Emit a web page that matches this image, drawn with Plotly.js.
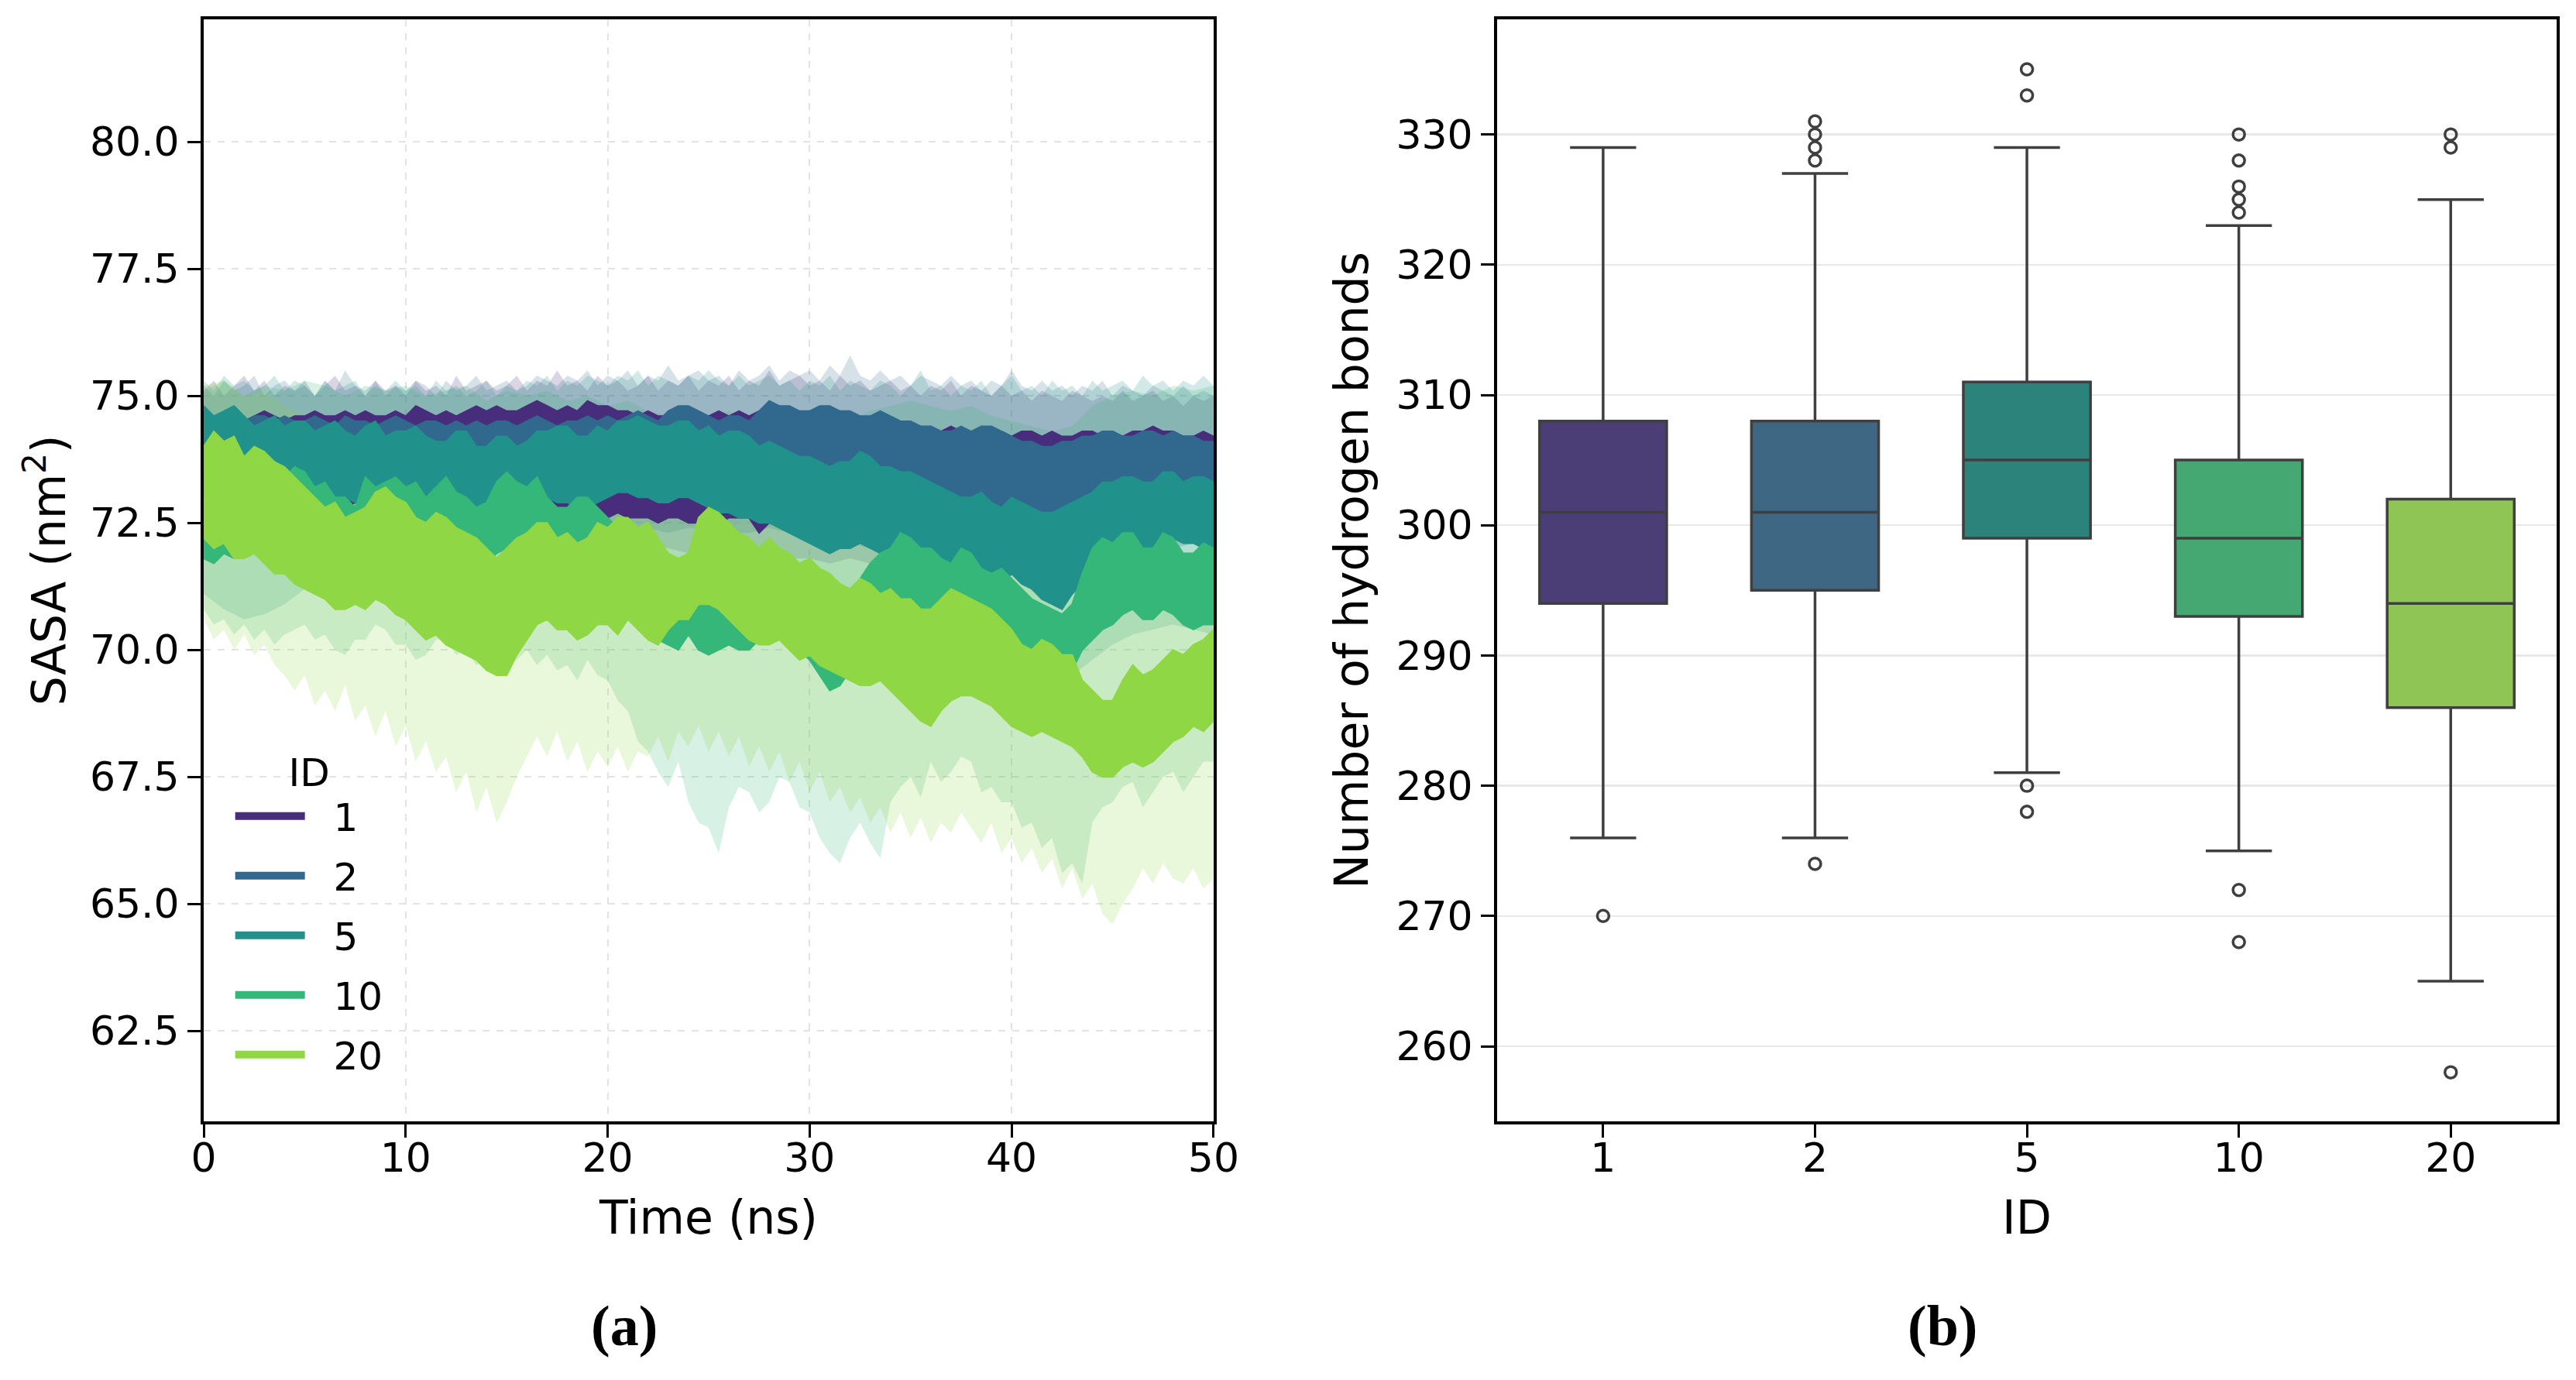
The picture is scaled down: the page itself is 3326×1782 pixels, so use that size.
<!DOCTYPE html>
<html>
<head>
<meta charset="utf-8">
<script src="https://cdn.plot.ly/plotly-3.0.1.min.js"></script>
<style>
  html, body { margin: 0; padding: 0; background: #fff; }
  #chart { width: 3326px; height: 1782px; }
</style>
</head>
<body>
<div id="chart"></div>
<script>
// IDs (hue levels) and viridis colours
const ids = ['1', '2', '5', '10', '20'];
const lineColors = ['#472d7b', '#31688e', '#21918c', '#35b779', '#8fd744'];
const bandColors = ['rgba(71,45,123,0.2)', 'rgba(49,104,142,0.2)', 'rgba(33,145,140,0.2)',
                    'rgba(53,183,121,0.2)', 'rgba(143,215,68,0.2)'];
const boxFills = ['#4b3e77', '#3e6784', '#2c837c', '#45a873', '#8ec555'];

// (a) SASA, thick line envelopes, one value every 0.5 ns (0..50)
const lineHi_1 = [74.6,74.5,74.6,74.6,74.5,74.6,74.7,74.6,74.5,74.6, 74.6,74.7,74.6,74.6,74.7,74.6,74.7,74.6,74.6,74.7,
  74.6,74.8,74.7,74.6,74.7,74.6,74.7,74.8,74.7,74.8, 74.7,74.7,74.8,74.9,74.8,74.7,74.8,74.7,74.9,74.8,
  74.8,74.7,74.7,74.6,74.7,74.6,74.6,74.7,74.6,74.6, 74.6,74.7,74.6,74.7,74.6,74.7,74.6,74.6,74.5,74.6,
  74.5,74.6,74.5,74.5,74.6,74.5,74.5,74.4,74.5,74.4, 74.4,74.3,74.4,74.3,74.4,74.3,74.3,74.2,74.3,74.3,
  74.2,74.3,74.3,74.2,74.3,74.2,74.2,74.3,74.3,74.2, 74.3,74.2,74.3,74.3,74.4,74.3,74.3,74.2,74.2,74.3, 74.2];
const lineLo_1 = [73.0,73.0,72.9,73.0,73.0,72.9,72.9,72.9,72.8,72.9, 72.9,72.8,72.9,72.8,72.8,72.9,72.8,72.8,72.7,72.8,
  72.8,72.7,72.8,72.7,72.7,72.8,72.7,72.7,72.7,72.6, 72.7,72.6,72.7,72.6,72.7,72.7,72.6,72.6,72.7,72.6,
  72.6,72.7,72.6,72.6,72.6,72.5,72.6,72.6,72.5,72.5, 72.6,72.5,72.6,72.6,72.6,72.3,72.5,72.6,72.4,72.4,
  72.5,72.4,72.4,72.4,72.4,72.3,72.4,72.4,72.3,72.4, 72.4,72.3,72.3,72.3,72.4,72.3,72.4,72.3,72.4,72.3,
  72.3,72.3,72.2,72.3,72.3,72.4,72.3,72.2,72.2,72.3, 72.5,72.6,72.7,72.7,72.8,72.7,72.8,72.8,72.7,72.8, 72.8];
const lineHi_2 = [74.7,74.6,74.6,74.7,74.5,74.6,74.6,74.5,74.6,74.5, 74.5,74.6,74.5,74.4,74.6,74.5,74.5,74.4,74.5,74.6,
  74.5,74.4,74.5,74.5,74.4,74.5,74.4,74.5,74.4,74.5, 74.5,74.4,74.5,74.6,74.5,74.4,74.5,74.5,74.6,74.5,
  74.6,74.5,74.6,74.7,74.6,74.5,74.7,74.8,74.8,74.7, 74.6,74.5,74.6,74.6,74.5,74.7,74.9,74.8,74.8,74.7,
  74.7,74.8,74.8,74.7,74.7,74.6,74.6,74.7,74.6,74.5, 74.5,74.4,74.4,74.3,74.3,74.4,74.3,74.4,74.4,74.3,
  74.2,74.1,74.1,74.0,74.0,74.1,74.1,74.2,74.2,74.3, 74.3,74.2,74.2,74.3,74.3,74.2,74.3,74.2,74.2,74.1, 74.1];
const lineLo_2 = [73.6,73.5,73.6,73.6,73.5,73.6,73.5,73.5,73.6,73.5, 73.5,73.6,73.5,73.4,73.5,73.5,73.4,73.5,73.5,73.5,
  73.5,73.4,73.5,73.4,73.4,73.5,73.4,73.5,73.4,73.5, 73.5,73.4,73.5,73.5,73.5,73.4,73.5,73.5,73.6,73.5,
  73.6,73.5,73.6,73.6,73.5,73.5,73.6,73.7,73.6,73.6, 73.6,73.5,73.5,73.6,73.5,73.6,73.6,73.5,73.5,73.4,
  73.4,73.3,73.3,73.4,73.4,73.3,73.3,73.2,73.1,73.0, 73.0,73.0,73.0,72.9,72.9,72.8,72.8,72.9,72.9,72.8,
  72.8,72.7,72.6,72.5,72.5,72.6,72.6,72.7,72.9,73.0, 73.1,73.1,73.2,73.2,73.3,73.3,73.4,73.3,73.3,73.2, 73.2];
const lineHi_5 = [74.8,74.6,74.7,74.8,74.6,74.4,74.5,74.6,74.4,74.5, 74.5,74.3,74.4,74.5,74.3,74.2,74.4,74.5,74.2,74.3,
  74.3,74.4,74.2,74.1,74.1,74.3,74.3,74.0,74.0,74.2, 74.2,74.0,74.1,74.3,74.3,74.4,74.4,74.2,74.2,74.4,
  74.3,74.5,74.5,74.6,74.5,74.4,74.4,74.5,74.5,74.3, 74.4,74.2,74.3,74.3,74.2,74.0,74.1,74.0,73.9,73.8,
  73.8,73.7,73.6,73.7,73.7,73.9,73.8,73.6,73.6,73.5, 73.5,73.4,73.3,73.2,73.1,73.0,73.0,73.1,72.9,72.8,
  73.0,72.9,72.8,72.7,72.7,72.8,72.9,73.0,73.1,73.3, 73.3,73.4,73.4,73.3,73.3,73.5,73.5,73.3,73.4,73.4, 73.3];
const lineLo_5 = [73.4,73.3,73.5,73.4,73.3,73.2,73.2,73.1,73.1,73.2, 73.2,73.0,73.1,73.0,73.0,72.9,73.1,73.0,72.9,72.9,
  73.0,72.9,72.9,72.8,72.8,72.9,73.0,72.8,72.8,72.9, 72.9,72.7,72.8,72.9,73.0,72.9,72.9,72.8,72.8,72.9,
  73.0,73.1,73.1,73.0,73.0,72.9,72.9,73.0,73.0,72.9, 72.8,72.7,72.7,72.6,72.6,72.5,72.5,72.4,72.3,72.2,
  72.1,72.0,71.9,72.0,72.0,72.1,72.0,71.9,71.9,71.8, 71.8,71.7,71.7,71.6,71.6,71.5,71.5,71.4,71.4,71.3,
  71.5,71.3,71.2,71.0,70.9,70.8,71.1,71.3,71.6,71.8, 71.9,72.0,72.1,72.0,72.0,72.2,72.2,72.1,72.1,72.0, 72.0];
const lineHi_10 = [72.6,72.5,72.7,72.6,72.9,73.0,73.2,73.4,73.4,73.6, 73.5,73.2,73.3,73.0,73.0,72.8,73.4,73.2,73.3,73.4,
  73.2,73.3,73.0,73.2,73.4,73.1,73.0,72.8,72.9,73.3, 73.5,73.3,73.2,73.4,73.0,72.8,72.8,73.0,73.0,72.8,
  72.6,72.4,72.2,71.9,71.6,71.4,71.2,71.3,71.5,71.3, 71.2,71.4,71.4,71.2,71.2,71.5,71.6,71.4,71.5,71.2,
  71.0,70.8,70.6,70.8,71.0,71.4,71.7,71.9,72.0,72.3, 72.2,72.0,72.0,71.8,71.7,72.0,71.9,71.6,71.5,71.6,
  71.4,71.2,71.0,70.9,70.8,70.7,70.9,71.5,72.0,72.2, 72.1,72.3,72.3,72.0,72.0,72.3,72.2,71.9,71.9,72.1, 72.0];
const lineLo_10 = [71.8,71.7,71.9,71.8,72.0,72.0,72.1,72.2,72.3,72.4, 72.4,72.2,72.2,72.0,71.9,71.8,72.2,72.1,72.3,72.2,
  72.1,72.0,71.9,72.0,72.2,72.0,71.9,71.7,71.7,71.9, 72.0,72.1,72.0,72.1,71.8,71.7,71.7,71.8,71.8,71.6,
  71.4,71.2,71.0,70.7,70.4,70.2,70.1,70.0,70.3,70.0, 69.9,70.0,70.1,70.0,70.0,70.2,70.3,70.2,70.2,70.0,
  69.8,69.5,69.2,69.3,69.6,69.9,70.4,70.5,70.6,70.8, 70.9,70.8,70.7,70.6,70.5,70.7,70.6,70.4,70.2,70.2,
  70.0,69.9,69.7,69.6,69.5,69.4,69.6,70.0,70.2,70.4, 70.5,70.7,70.8,70.6,70.6,70.8,70.7,70.5,70.4,70.5, 70.5];
const lineHi_20 = [74.0,74.3,74.1,74.2,73.8,74.0,73.9,73.7,73.6,73.4, 73.2,73.0,72.8,72.9,72.6,72.7,72.8,73.1,73.2,73.0,
  72.9,72.6,72.5,72.7,72.6,72.4,72.3,72.2,72.0,71.8, 72.0,72.2,72.3,72.5,72.5,72.2,72.3,72.1,72.2,72.5,
  72.4,72.6,72.6,72.4,72.5,72.2,71.9,71.8,71.9,72.6, 72.8,72.7,72.5,72.3,72.2,72.0,72.2,72.0,71.9,71.7,
  71.8,71.6,71.5,71.3,71.2,71.4,71.3,71.1,71.2,71.0, 71.0,70.8,70.8,71.0,71.2,71.1,71.0,70.9,70.8,70.6,
  70.4,70.1,70.0,70.2,70.1,69.9,69.9,69.4,69.2,69.0, 69.0,69.4,69.7,69.5,69.6,69.8,70.0,69.9,70.1,70.2, 70.4];
const lineLo_20 = [72.2,72.0,72.1,71.8,71.8,71.9,71.7,71.5,71.5,71.3, 71.2,71.1,71.0,70.8,70.8,70.9,70.8,71.0,70.9,70.7,
  70.6,70.4,70.2,70.3,70.1,70.0,69.9,69.8,69.6,69.5, 69.5,69.9,70.2,70.5,70.6,70.4,70.4,70.2,70.3,70.5,
  70.5,70.3,70.6,70.4,70.2,70.1,70.4,70.6,70.6,70.9, 70.9,70.8,70.6,70.4,70.2,70.1,70.1,70.2,70.0,69.8,
  69.9,69.7,69.6,69.5,69.4,69.3,69.3,69.4,69.2,69.0, 68.8,68.6,68.5,68.8,69.0,69.1,69.1,69.0,68.9,68.7,
  68.5,68.4,68.3,68.4,68.3,68.2,68.1,67.9,67.6,67.5, 67.5,67.7,67.8,67.7,67.8,68.0,68.2,68.3,68.5,68.4, 68.6];

// (a) SASA, faint band edges: upper every 0.5 ns, lower every 1 ns (except 10 and 20: 0.5 ns)
const bandHi_1 = [75.1,75.3,75.0,75.2,75.4,75.1,75.3,75.0,75.2,75.1, 75.3,75.0,75.2,75.4,75.1,75.2,75.0,75.3,75.1,75.2,
  75.0,75.3,75.1,75.2,75.0,75.4,75.1,75.2,75.3,75.1, 75.2,75.4,75.1,75.3,75.2,75.5,75.2,75.3,75.1,75.4,
  75.2,75.3,75.1,75.2,75.4,75.1,75.3,75.2,75.4,75.1, 75.3,75.2,75.4,75.1,75.3,75.2,75.5,75.2,75.3,75.4,
  75.2,75.3,75.1,75.4,75.2,75.3,75.1,75.2,75.3,75.1, 75.2,75.0,75.2,75.1,75.3,75.0,75.2,75.1,75.0,75.2,
  75.0,75.1,74.9,75.1,75.0,74.9,75.1,75.0,74.9,75.0, 74.9,75.1,74.9,75.0,75.1,74.9,75.0,74.8,75.0,74.9, 75.0];
const bandLo_1 = [72.4,72.3,72.4,72.2,72.3,72.3,72.2,72.3,72.2,72.2, 72.1,72.2,72.2,72.1,72.2,72.1,72.1,72.2,72.1,72.0,
  72.1,72.0,72.1,72.0,71.9,72.0,71.9,71.8,71.9,71.8, 71.8,71.7,71.8,71.7,71.8,71.7,71.7,71.8,71.7,71.6,
  71.7,71.6,71.5,71.6,71.7,71.8,71.9,72.0,72.0,72.1, 72.1];
const bandHi_2 = [75.2,75.0,75.3,75.1,75.2,75.4,75.0,75.2,75.3,75.1, 75.2,75.0,75.3,75.1,75.5,75.2,75.1,75.3,75.0,75.2,
  75.1,75.3,75.2,75.0,75.3,75.1,75.2,75.4,75.1,75.2, 75.3,75.1,75.2,75.4,75.3,75.2,75.4,75.3,75.5,75.2,
  75.4,75.3,75.5,75.2,75.4,75.3,75.6,75.3,75.4,75.5, 75.3,75.4,75.2,75.5,75.3,75.4,75.6,75.3,75.5,75.4,
  75.5,75.3,75.6,75.4,75.8,75.4,75.3,75.5,75.3,75.4, 75.2,75.4,75.3,75.2,75.4,75.2,75.3,75.1,75.3,75.2,
  75.5,75.2,75.1,75.3,75.1,75.2,75.0,75.2,75.1,75.3, 75.0,75.2,75.1,75.0,75.2,75.1,75.0,75.2,75.0,75.1, 75.0];
const bandLo_2 = [72.6,72.5,72.6,72.4,72.5,72.5,72.4,72.5,72.4,72.4, 72.3,72.4,72.4,72.3,72.4,72.3,72.3,72.4,72.3,72.3,
  72.4,72.3,72.4,72.3,72.4,72.4,72.3,72.3,72.4,72.3, 72.2,72.1,72.1,72.0,72.0,71.9,71.8,71.8,71.7,71.7,
  71.6,71.5,71.4,71.5,71.6,71.8,72.0,72.1,72.2,72.2, 72.1];
const bandHi_5 = [75.3,75.1,75.4,75.2,75.3,75.1,75.2,75.4,75.1,75.3, 75.2,75.0,75.3,75.1,75.2,75.3,75.0,75.2,75.1,75.3,
  75.1,75.2,75.0,75.3,75.1,75.2,75.0,75.1,75.3,75.0, 75.2,75.1,75.3,75.2,75.4,75.1,75.3,75.2,75.4,75.3,
  75.2,75.4,75.3,75.5,75.2,75.4,75.3,75.2,75.4,75.3, 75.5,75.3,75.2,75.4,75.2,75.3,75.4,75.2,75.3,75.1,
  75.3,75.2,75.4,75.1,75.3,75.2,75.1,75.3,75.2,75.0, 75.2,75.5,75.1,75.2,75.0,75.2,75.1,75.3,75.0,75.2,
  75.4,75.1,75.2,75.0,75.3,75.1,75.2,75.0,75.3,75.1, 75.2,75.3,75.1,75.4,75.2,75.3,75.1,75.3,75.2,75.4, 75.2];
const bandLo_5 = [71.1,70.8,70.6,70.7,70.9,71.2,71.3,71.5,71.4,71.5, 71.6,71.4,71.5,71.3,71.4,71.5,71.3,71.4,71.5,71.3,
  71.4,71.5,71.3,71.2,71.3,71.1,71.0,70.9,70.8,70.6, 70.4,70.2,70.3,70.2,70.1,70.2,70.0,69.9,69.8,69.7,
  69.8,69.6,69.4,69.5,69.8,70.1,70.3,70.4,70.5,70.4, 70.3];
const bandHi_10 = [75.1,75.3,75.0,75.2,75.1,75.3,75.2,75.0,75.2,75.1, 75.2,75.0,75.1,75.2,74.9,75.1,75.0,75.1,74.9,75.0,
  74.8,74.9,74.7,74.6,74.8,74.6,74.7,74.5,74.7,74.6, 74.5,74.3,74.5,74.7,74.8,74.9,74.8,74.7,74.8,74.6,
  74.5,74.4,74.3,74.4,74.8,75.0,75.1,75.0,75.2,75.1, 75.2];
const bandLo_10 = [70.8,70.5,70.6,70.3,70.5,70.2,70.4,70.1,70.3,70.4, 70.5,70.2,70.3,70.0,69.9,70.2,70.2,70.5,70.4,70.1,
  70.1,69.8,69.9,70.2,70.2,69.9,70.0,69.7,69.8,70.0, 70.1,69.8,70.0,69.7,69.9,69.6,69.7,69.4,69.8,69.5,
  69.4,69.0,68.8,68.2,68.0,67.6,67.3,67.8,67.0,66.6, 66.5,66.0,66.9,67.3,67.2,66.8,67.0,67.5,67.4,66.9,
  66.8,66.3,66.0,65.8,66.3,66.6,66.2,65.9,67.0,67.3, 67.5,67.1,67.8,67.4,67.6,67.9,67.8,67.2,67.3,67.0,
  67.0,66.5,66.6,66.1,66.3,65.6,65.8,65.4,66.6,66.9, 67.0,67.3,67.4,66.9,67.2,67.5,67.6,67.2,67.5,67.8, 67.8];
const bandHi_20 = [75.2,75.3,75.0,75.1,74.8,74.6,74.3,74.1,74.2,74.4, 74.2,73.9,73.8,73.7,73.4,73.3,73.6,73.9,73.8,73.7,
  73.9,74.0,73.8,73.6,73.7,74.2,74.0,73.7,73.6,73.4, 73.3,73.0,72.8,72.8,72.7,72.4,72.1,72.6,72.5,72.3,
  71.9,71.6,71.7,71.5,70.8,70.6,71.2,71.2,71.6,71.8, 72.0];
const bandLo_20 = [70.6,70.2,70.4,70.0,70.3,69.9,70.1,69.7,69.5,69.2, 69.5,68.9,69.2,68.8,69.3,68.6,68.9,68.3,68.8,68.1,
  68.5,67.8,68.2,67.6,67.9,67.2,67.6,66.8,67.3,66.6, 67.0,67.5,67.9,68.3,67.9,68.4,67.8,68.2,67.6,68.0,
  67.7,68.1,67.6,68.0,67.9,68.3,67.8,68.4,68.1,68.5, 68.0,68.4,67.9,68.3,67.7,68.1,67.6,68.0,67.4,67.8,
  67.2,67.6,67.0,67.3,66.8,67.1,66.6,66.9,66.4,66.8, 66.3,66.7,66.2,66.6,66.4,66.8,66.5,66.2,66.6,66.0,
  66.3,65.8,66.1,65.6,65.9,65.3,65.7,65.1,65.4,64.8, 64.6,65.0,65.3,65.7,65.4,65.8,65.5,65.4,65.7,65.3, 65.5];

// (b) hydrogen bond box statistics per ID
const hbLowerFence = [276, 276, 281, 275, 265];
const hbQ1 = [294, 295, 299, 293, 286];
const hbMedian = [301, 301, 305, 299, 294];
const hbQ3 = [308, 308, 311, 305, 302];
const hbUpperFence = [329, 327, 329, 323, 325];
const hbOutliers = [
  [270],
  [274, 328, 329, 330, 331],
  [278, 280, 333, 335],
  [268, 272, 324, 325, 326, 328, 330],
  [258, 329, 330]
];

const lineHi = [lineHi_1, lineHi_2, lineHi_5, lineHi_10, lineHi_20];
const lineLo = [lineLo_1, lineLo_2, lineLo_5, lineLo_10, lineLo_20];
const bandHi = [bandHi_1, bandHi_2, bandHi_5, bandHi_10, bandHi_20];
const bandLo = [bandLo_1, bandLo_2, bandLo_5, bandLo_10, bandLo_20];

const FONT = 'DejaVu Sans';
const T_END = 50;
const NBSP = '\u00a0\u00a0';

// time stamps for an evenly sampled series covering 0..50 ns
function timeOf(arr) {
  return arr.map((_, i) => i * T_END / (arr.length - 1));
}

// closed polygon between an upper and a lower edge
function bandTrace(hi, lo, color) {
  const th = timeOf(hi), tl = timeOf(lo);
  return {
    x: th.concat(tl.slice().reverse()),
    y: hi.concat(lo.slice().reverse()),
    type: 'scatter', mode: 'lines', fill: 'toself',
    fillcolor: color, line: {width: 0, color: color},
    showlegend: false, hoverinfo: 'skip', xaxis: 'x', yaxis: 'y'
  };
}

const traces = [];
// faint bands first, under every line
for (let i = 0; i < ids.length; i++) {
  traces.push(bandTrace(bandHi[i], bandLo[i], bandColors[i]));
}
// thick noisy lines, later IDs on top
for (let i = 0; i < ids.length; i++) {
  const t = bandTrace(lineHi[i], lineLo[i], lineColors[i]);
  t.line = {width: 2, color: lineColors[i]};
  traces.push(t);
}
// legend entries
for (let i = 0; i < ids.length; i++) {
  traces.push({
    x: [null], y: [null], type: 'scatter', mode: 'lines', name: NBSP + ids[i],
    legendgroup: ids[i], line: {color: lineColors[i], width: 11},
    xaxis: 'x', yaxis: 'y', showlegend: true
  });
}

// (b) boxes and outliers
for (let i = 0; i < ids.length; i++) {
  traces.push({
    type: 'box', x: [ids[i]],
    q1: [hbQ1[i]], median: [hbMedian[i]], q3: [hbQ3[i]],
    lowerfence: [hbLowerFence[i]], upperfence: [hbUpperFence[i]],
    fillcolor: boxFills[i], line: {color: '#3f3f3f', width: 3.5},
    width: 0.6, whiskerwidth: 0.52, boxpoints: false,
    xaxis: 'x2', yaxis: 'y2', showlegend: false, hoverinfo: 'skip'
  });
  traces.push({
    type: 'scatter', mode: 'markers',
    x: hbOutliers[i].map(() => ids[i]), y: hbOutliers[i],
    marker: {symbol: 'circle-open', size: 15, color: '#3f3f3f', line: {width: 3.5, color: '#3f3f3f'}},
    xaxis: 'x2', yaxis: 'y2', showlegend: false, hoverinfo: 'skip'
  });
}

const axisBase = {
  showline: true, linecolor: '#000', linewidth: 4, mirror: true,
  ticks: 'outside', ticklen: 17, tickwidth: 3, tickcolor: '#000',
  tickfont: {family: FONT, size: 52, color: '#000'},
  zeroline: false, automargin: false
};

const layout = {
  width: 3326, height: 1782,
  margin: {l: 0, r: 0, t: 0, b: 0},
  paper_bgcolor: '#fff', plot_bgcolor: '#fff',
  font: {family: FONT, color: '#000'},
  showlegend: true,
  xaxis: Object.assign({}, axisBase, {
    domain: [0.0791, 0.4711], anchor: 'y', range: [0, 50], dtick: 10, tick0: 0,
    ticklabelstandoff: -18,
    showgrid: true, gridcolor: '#e3e3e3', gridwidth: 2, griddash: 'dash',
    title: {text: 'Time (ns)', font: {family: FONT, size: 60}, standoff: 28}
  }),
  yaxis: Object.assign({}, axisBase, {
    domain: [0.1874, 0.986], anchor: 'x', range: [60.72, 82.41], dtick: 2.5, tick0: 62.5,
    tickformat: '.1f',
    showgrid: true, gridcolor: '#e3e3e3', gridwidth: 2, griddash: 'dash',
    title: {text: 'SASA (nm<sup>2</sup>)', font: {family: FONT, size: 60}, standoff: 13}
  }),
  xaxis2: Object.assign({}, axisBase, {
    domain: [0.5812, 0.9925], anchor: 'y2', type: 'category',
    categoryorder: 'array', categoryarray: ids, range: [-0.5, 4.5],
    ticklabelstandoff: -18,
    showgrid: false,
    title: {text: 'ID', font: {family: FONT, size: 60}, standoff: 28}
  }),
  yaxis2: Object.assign({}, axisBase, {
    domain: [0.1874, 0.986], anchor: 'x2', range: [254.23, 338.84], dtick: 10, tick0: 260,
    showgrid: true, gridcolor: '#e8e8e8', gridwidth: 2.5,
    title: {text: 'Number of hydrogen bonds', font: {family: FONT, size: 60}, standoff: 17}
  }),
  legend: {
    x: 0.0898, y: 0.467, xanchor: 'left', yanchor: 'top',
    bgcolor: 'rgba(0,0,0,0)', borderwidth: 0,
    font: {family: FONT, size: 50, color: '#000'},
    title: {text: 'ID', side: 'top center', font: {family: FONT, size: 50, color: '#000'}},
    tracegroupgap: 9, itemwidth: 90
  },
  boxmode: 'overlay',
  annotations: [
    {text: '<b>(a)</b>', x: 0.2424, y: 0.0395, xref: 'paper', yref: 'paper',
     xanchor: 'center', yanchor: 'middle',
     showarrow: false, font: {family: 'Liberation Serif', size: 74, color: '#000'}},
    {text: '<b>(b)</b>', x: 0.754, y: 0.0395, xref: 'paper', yref: 'paper',
     xanchor: 'center', yanchor: 'middle',
     showarrow: false, font: {family: 'Liberation Serif', size: 74, color: '#000'}}
  ]
};

Plotly.newPlot('chart', traces, layout, {staticPlot: true});
</script>
</body>
</html>
